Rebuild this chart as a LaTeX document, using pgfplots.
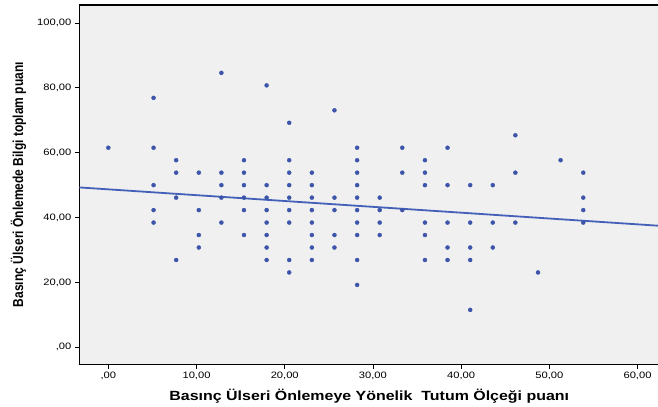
\documentclass[border=0pt]{standalone}
\usepackage{graphicx}
\usepackage{pgfplots}
\pgfplotsset{compat=1.18}
\usepackage{fontspec}
\setmainfont{Liberation Sans}
\newfontfamily\widefont[FakeStretch=1.2]{Liberation Sans}
\definecolor{dotblue}{HTML}{3C54AA}
\definecolor{lineblue}{HTML}{4460B8}
\definecolor{bg}{HTML}{F0F0F0}
\begin{document}
\begin{tikzpicture}
\path[use as bounding box] (-79.3bp,-42.7bp) rectangle (578.7bp,364.3bp);
\begin{axis}[
  at={(0,0)}, anchor=south west,
  scale only axis, width=580bp, height=359.3bp,
  xmin=-3.29, xmax=62.47, ymin=-5.24, ymax=105.55,
  xtick={0,10,...,60}, xticklabels={{,00},{10,00},{20,00},{30,00},{40,00},{50,00},{60,00}},
  ytick={0,20,...,100}, yticklabels={{,00},{20,00},{40,00},{60,00},{80,00},{100,00}},
  tick pos=left, tick align=outside, major tick length=4.5bp,
  tick style={black, line width=0.8bp},
  axis line style={black, line width=1.1bp},
  axis background/.style={fill=bg},
  ticklabel style={font=\widefont\fontsize{9.3bp}{10bp}\selectfont, color=black},
  xlabel={Basınç Ülseri Önlemeye Yönelik\ \ Tutum Ölçeği puanı},
  ylabel={\scalebox{1}[1.2]{Basınç Ülseri Önlemede Bilgi toplam puanı}},
  xlabel style={font=\widefont\bfseries\fontsize{13.3bp}{14bp}\selectfont, at={(axis description cs:0.5,0)}, anchor=base, yshift=-35.7bp},
  ylabel style={font=\bfseries\fontsize{12bp}{13bp}\selectfont, at={(axis description cs:-0.0968,0.5)}, anchor=base},
]
\addplot[only marks, mark=*, mark size=2bp, draw=dotblue, fill=dotblue] table {
x y
0 61.54
5.13 76.92
5.13 61.54
5.13 50
5.13 42.31
5.13 38.46
7.69 57.69
7.69 53.85
7.69 46.15
7.69 26.92
10.26 53.85
10.26 42.31
10.26 34.62
10.26 30.77
12.82 84.62
12.82 53.85
12.82 50
12.82 46.15
12.82 38.46
15.38 57.69
15.38 53.85
15.38 50
15.38 46.15
15.38 42.31
15.38 34.62
17.95 80.77
17.95 50
17.95 46.15
17.95 42.31
17.95 38.46
17.95 34.62
17.95 30.77
17.95 26.92
20.51 69.23
20.51 57.69
20.51 53.85
20.51 50
20.51 46.15
20.51 42.31
20.51 38.46
20.51 26.92
20.51 23.08
23.08 53.85
23.08 50
23.08 46.15
23.08 42.31
23.08 38.46
23.08 34.62
23.08 30.77
23.08 26.92
25.64 73.08
25.64 46.15
25.64 42.31
25.64 34.62
25.64 30.77
28.21 61.54
28.21 57.69
28.21 53.85
28.21 50
28.21 46.15
28.21 42.31
28.21 38.46
28.21 34.62
28.21 26.92
28.21 19.23
30.77 46.15
30.77 42.31
30.77 38.46
30.77 34.62
33.33 61.54
33.33 53.85
33.33 42.31
35.9 57.69
35.9 53.85
35.9 50
35.9 38.46
35.9 34.62
35.9 26.92
38.46 61.54
38.46 50
38.46 38.46
38.46 30.77
38.46 26.92
41.03 50
41.03 38.46
41.03 30.77
41.03 26.92
41.03 11.54
43.59 50
43.59 38.46
43.59 30.77
46.15 65.38
46.15 53.85
46.15 38.46
48.72 23.08
51.28 57.69
53.85 53.85
53.85 46.15
53.85 42.31
53.85 38.46
};
\addplot[lineblue, line width=1.8bp, no marks] coordinates {(-3.29,49.3) (62.47,37.47)};
\end{axis}
\end{tikzpicture}
\end{document}
